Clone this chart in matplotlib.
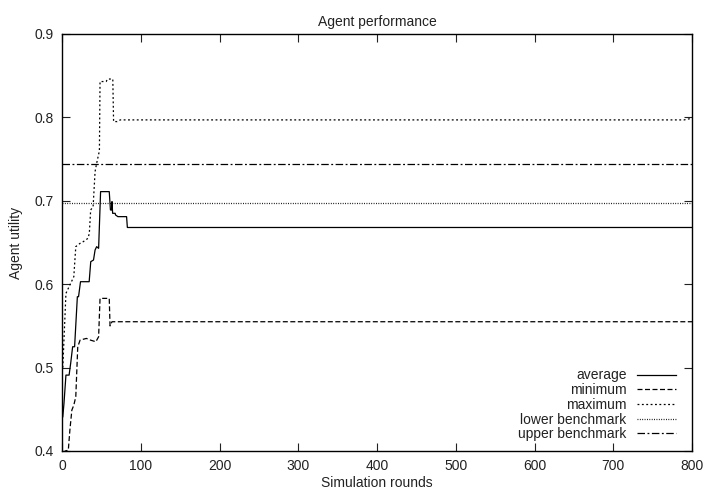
import matplotlib
matplotlib.use("Agg")
import matplotlib.pyplot as plt
from matplotlib.ticker import MultipleLocator, FormatStrFormatter

plt.rcParams['font.family'] = ['Liberation Sans', 'DejaVu Sans']

# Data
avg_x = [1, 2.5, 5, 9, 11, 13.5, 16, 19.5, 21, 23.5, 34.5, 36.5, 40, 42, 44, 46.5, 49, 60,
         61.5, 63, 63.5, 64.3, 67.5, 68, 71, 82, 83, 800]
avg_y = [0.441, 0.457, 0.491, 0.491, 0.505, 0.525, 0.525, 0.585, 0.585, 0.603, 0.603, 0.627,
         0.629, 0.641, 0.645, 0.643, 0.711, 0.711, 0.689, 0.689, 0.699, 0.685, 0.685, 0.683,
         0.681, 0.681, 0.668, 0.668]

min_x = [1, 4, 8, 10, 12.5, 15, 17.5, 20, 23, 31, 36, 43, 46.5, 48.3, 60, 61, 63.5, 800]
min_y = [0.37, 0.40, 0.401, 0.425, 0.449, 0.455, 0.465, 0.525, 0.533, 0.535, 0.533, 0.531,
         0.537, 0.583, 0.583, 0.550, 0.555, 0.555]

max_x = [1, 5, 7, 9, 11, 13.5, 15, 17.5, 20, 23, 27, 33, 34.7, 36.4, 39.5, 42, 44, 47.5,
         48.3, 56, 58, 64.5, 65.5, 70, 74, 790, 800]
max_y = [0.50, 0.589, 0.593, 0.597, 0.601, 0.606, 0.609, 0.645, 0.647, 0.649, 0.651, 0.655,
         0.661, 0.689, 0.693, 0.735, 0.745, 0.760, 0.843, 0.843, 0.846, 0.846, 0.795, 0.795,
         0.797, 0.797, 0.799]

bench_x = [0, 800]
lower_bench = [0.697, 0.697]
upper_bench = [0.744, 0.744]

fig = plt.figure(figsize=(7.05, 4.93), dpi=100)
ax = fig.add_axes([62/705, 1 - 451/493, 630/705, 417/493])

lw = 0.9
ax.plot(avg_x, avg_y, color='black', lw=lw, ls='-', label='average')
ax.plot(min_x, min_y, color='black', lw=lw, ls=(0, (4, 2)), label='minimum')
ax.plot(max_x, max_y, color='black', lw=lw, ls=(0, (1.5, 2)), label='maximum')
ax.plot(bench_x, lower_bench, color='black', lw=lw, ls=(0, (0.7, 1.2)), label='lower benchmark')
ax.plot(bench_x, upper_bench, color='black', lw=lw, ls=(0, (6, 2, 1.5, 2)), label='upper benchmark')

ax.set_xlim(0, 800)
ax.set_ylim(0.4, 0.9)
ax.xaxis.set_major_locator(MultipleLocator(100))
ax.yaxis.set_major_locator(MultipleLocator(0.1))
ax.yaxis.set_major_formatter(FormatStrFormatter('%.1f'))
ax.tick_params(direction='in', top=True, right=True, length=6, width=0.8,
               labelsize=10, pad=6, colors='#222222', labelcolor='#222222')
for s in ax.spines.values():
    s.set_linewidth(1.0)

ax.set_title('Agent performance', fontsize=10, pad=6, color='#222222')
ax.set_xlabel('Simulation rounds', fontsize=10, labelpad=2, color='#222222')
ax.set_ylabel('Agent utility', fontsize=10, labelpad=8, color='#222222')

leg = ax.legend(loc='lower right', frameon=False, markerfirst=False, fontsize=10,
                handlelength=2.8, handletextpad=0.75, labelspacing=0.05,
                borderaxespad=0.3, bbox_to_anchor=(0.99, 0.0))
for t in leg.get_texts():
    t.set_ha('right')
    t.set_color('#222222')

fig.savefig('out.png', dpi=100)
